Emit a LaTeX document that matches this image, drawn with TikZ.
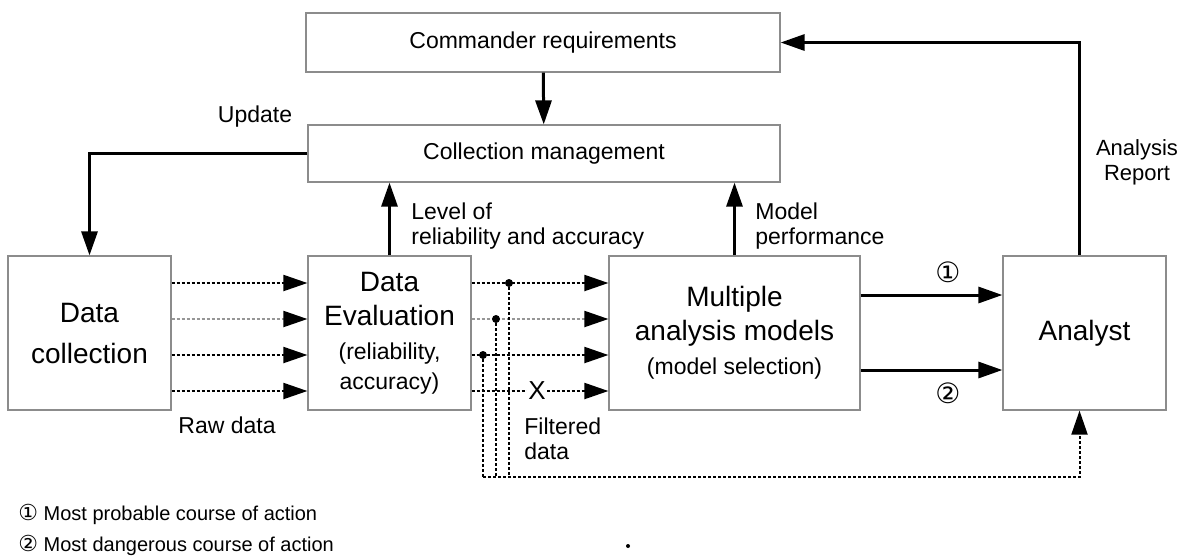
\documentclass[tikz,border=0pt]{standalone}
\usepackage{fontspec}
\setmainfont{Liberation Sans}
\newfontfamily\circfont{DejaVu Sans}
\usetikzlibrary{arrows.meta, positioning, calc}
\definecolor{framegray}{RGB}{140,140,140}
\definecolor{lightdot}{RGB}{150,150,150}
\newcommand{\subfont}{\fontsize{11.5}{14}\selectfont}

\begin{document}
\begin{tikzpicture}[x=0.5pt, y=-0.5pt,
  block/.style={draw=framegray, line width=0.6pt, inner sep=0pt, align=center, minimum width=81.5pt, minimum height=77pt, font=\fontsize{14}{17}\selectfont},
  topblock/.style={block, minimum width=237pt, minimum height=29.5pt, font=\fontsize{11.5}{13}\selectfont},
  flow/.style={line width=1.5pt, -{Triangle[length=12pt, width=8pt]}},
  dataflow/.style={line width=1pt, dash pattern=on 1.5pt off 1pt, -{Triangle[length=12pt, width=8pt, color=black]}},
  tap/.style={line width=1pt, dash pattern=on 1.5pt off 1pt},
  note/.style={font=\fontsize{11.5}{12.5}\selectfont, inner sep=0pt, align=left},
  junction/.style={circle, fill=black, inner sep=0pt, minimum size=4pt}
]
  \useasboundingbox (0,0) rectangle (1182,559);

  % Management level
  \node[topblock] (cmd) at (543,42.5) {Commander requirements};
  \node[topblock, minimum width=236pt, minimum height=28.5pt] (mgmt) at (544,153.5) {Collection management};

  % Processing chain
  \node[block] (coll) at (89.5,333) {Data\\[3.5pt]collection};
  \node[block] (eval) at (389.5,333) {Data\\Evaluation\\{\subfont (reliability,}\\[-2pt]{\subfont accuracy)}};
  \node[block, minimum width=125.5pt] (multi) at (734.5,333) {Multiple\\analysis models\\{\subfont (model selection)}};
  \node[block] (analyst) at (1084.5,333) {Analyst};

  % Feedback loops
  \draw[flow] (cmd) -- (mgmt);
  \draw[flow] (mgmt.west) -| (coll.north);
  \draw[flow] (eval.north) -- (eval.north |- mgmt.south);
  \draw[flow] (multi.north) -- (multi.north |- mgmt.south);
  \draw[flow] ([xshift=-2.5pt]analyst.north) |- (cmd.east);
  \node[note] (upd) at (255,117) {Update};
  \node[note, anchor=west] (lvl) at (411,226) {Level of\\reliability and accuracy};
  \node[note, anchor=west] (perf) at (755,226) {Model\\performance};
  \node[note, align=center, font=\fontsize{11}{12.5}\selectfont] (rep) at (1137,162) {Analysis\\Report};

  % Raw data
  \foreach \dy/\col in {25/black, 7/lightdot, -11/black, -29/black}
    \draw[dataflow, draw=\col] ([yshift=\dy pt]coll.east) -- ([yshift=\dy pt]eval.west);
  \node[note] (raw) at (227,425) {Raw data};

  % Filtered data
  \foreach \dy/\col in {25/black, 7/lightdot, -11/black}
    \draw[dataflow, draw=\col] ([yshift=\dy pt]eval.east) -- ([yshift=\dy pt]multi.west);
  \draw[dataflow] ([yshift=-29pt]eval.east) -- ([yshift=-29pt]multi.west);
  \node[fill=white, inner sep=0.5pt, font=\fontsize{13}{14}\selectfont] (cut) at (537,391) {X};
  \node[note, anchor=west] (filt) at (524,439) {Filtered\\data};

  % Bypass to analyst
  \coordinate (bus) at (483,477);
  \node[junction] (j1) at (509,283) {};
  \node[junction] (j2) at (496,319) {};
  \node[junction] (j3) at (483,355) {};
  \draw[tap] (j1) -- (j1 |- bus);
  \draw[tap] (j2) -- (j2 |- bus);
  \draw[tap] (j3) -- (bus);
  \draw[dataflow] (bus) -| ([xshift=-2.5pt]analyst.south);

  % Courses of action
  \draw[flow] ([yshift=19pt]multi.east) -- ([yshift=19pt]analyst.west);
  \draw[flow] ([yshift=-18.5pt]multi.east) -- ([yshift=-18.5pt]analyst.west);
  \node[font=\circfont\fontsize{14}{15}\selectfont] (c1) at (948,272) {①};
  \node[font=\circfont\fontsize{14}{15}\selectfont] (c2) at (948,393) {②};

  % Legend
  \node[note, anchor=west, font=\fontsize{10}{12}\selectfont] (leg1) at (18,514) {{\circfont\fontsize{11}{12}\selectfont ①} Most probable course of action};
  \node[note, anchor=west, font=\fontsize{10}{12}\selectfont] (leg2) at (18,545) {{\circfont\fontsize{11}{12}\selectfont ②} Most dangerous course of action};
  \fill (628,546) circle (2);
\end{tikzpicture}
\end{document}
